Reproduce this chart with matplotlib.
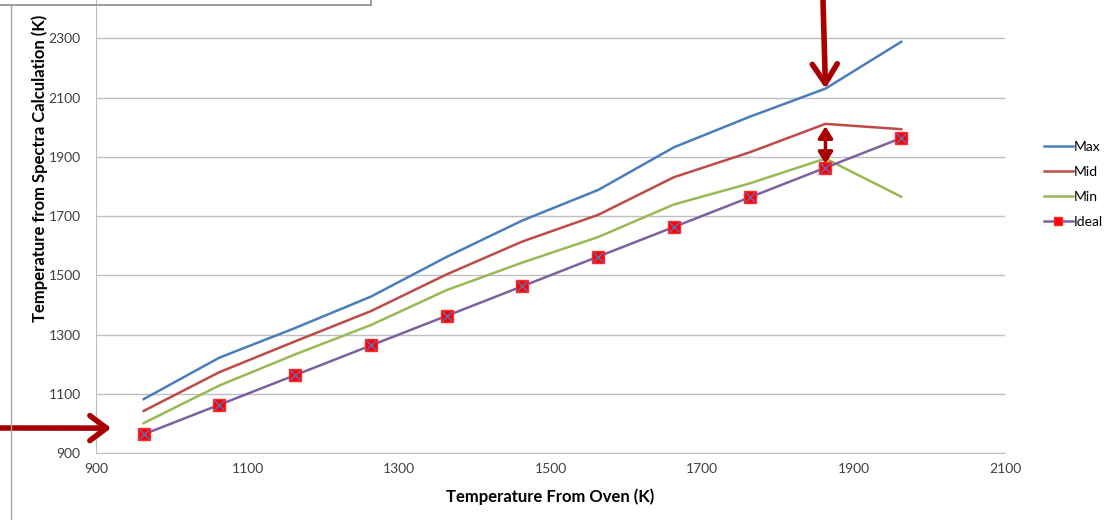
import numpy as np
import matplotlib
matplotlib.use('Agg')
import matplotlib.pyplot as plt
from matplotlib.lines import Line2D

plt.rcParams['font.family'] = ['Lato', 'DejaVu Sans']

# oven temperature (K)
oven = [963, 1063, 1163, 1263, 1363, 1463, 1563, 1663, 1763, 1863, 1963]
# temperature from spectra (K)
t_max = [1082, 1222, 1322, 1428, 1562, 1685, 1788, 1932, 2035, 2130, 2288]
t_mid = [1042, 1173, 1277, 1379, 1503, 1614, 1704, 1831, 1915, 2011, 1993]
t_min = [1001, 1128, 1233, 1332, 1450, 1543, 1629, 1739, 1810, 1894, 1765]
t_ideal = [963, 1063, 1163, 1263, 1363, 1463, 1563, 1663, 1763, 1863, 1963]

x_ticks = [900, 1100, 1300, 1500, 1700, 1900, 2100]
y_ticks = [900, 1100, 1300, 1500, 1700, 1900, 2100, 2300]

W, H = 1113, 520
fig = plt.figure(figsize=(W / 100, H / 100), dpi=100)
ax = fig.add_axes([96 / W, 67 / H, 909 / W, 474 / H])

ax.plot(oven, t_max, '-', color='#4A7EBB', lw=1.8, label='Max')
ax.plot(oven, t_mid, '-', color='#BE4B48', lw=1.8, label='Mid')
ax.plot(oven, t_min, '-', color='#98B954', lw=1.8, label='Min')
ax.plot(oven, t_ideal, '-', color='#7D60A0', lw=1.8, marker='s', markersize=8.5,
        markerfacecolor='#FF0000', markeredgecolor='#FF2A2A', label='Ideal', zorder=4)
ax.plot(oven, t_ideal, 'x', color='#5A6FC0', markersize=7, mew=1.0, zorder=5)

ax.set_xlim(900, 2100)
ax.set_ylim(900, 2500)
ax.set_xticks(x_ticks)
ax.set_yticks(y_ticks)
ax.tick_params(length=0, labelsize=10, colors='#404040')
ax.tick_params(axis='y', pad=11)
ax.tick_params(axis='x', pad=7)
ax.grid(True, axis='y', color='#BFBFBF', lw=1)
ax.set_axisbelow(True)
for s in ['top', 'right']:
    ax.spines[s].set_visible(False)
for s in ['left', 'bottom']:
    ax.spines[s].set_color('#BFBFBF')

ax.set_xlabel('Temperature From Oven (K)', fontsize=12, fontweight='bold', labelpad=10)
fig.text(40 / W, (H - 322) / H, 'Temperature from Spectra Calculation (K)',
         rotation=90, ha='center', va='bottom', fontsize=12, fontweight='bold')

fig.legend(loc='upper left', bbox_to_anchor=(1038 / W, (H - 135) / H), frameon=False,
           fontsize=10, labelspacing=0.95, handlelength=2.1, handletextpad=0.05,
           markerscale=0.7, borderaxespad=0)

# arrows
red = '#A80000'
ax.annotate('', xy=(920, 984), xytext=(0, H - 428), textcoords='figure pixels',
            arrowprops=dict(arrowstyle='->,head_length=0.6,head_width=0.45', color=red,
                            lw=4, mutation_scale=20, shrinkA=0, shrinkB=0),
            annotation_clip=False)
ax.annotate('', xy=(oven[9], t_max[9]), xytext=(823, H), textcoords='figure pixels',
            arrowprops=dict(arrowstyle='->,head_length=0.7,head_width=0.45', color=red,
                            lw=4, mutation_scale=20, shrinkA=0, shrinkB=0),
            annotation_clip=False)
ax.annotate('', xy=(oven[9], t_mid[9] - 8), xytext=(oven[9], t_min[9] - 18),
            arrowprops=dict(arrowstyle='<|-|>,head_length=0.35,head_width=0.22', color=red,
                            lw=2.5, mutation_scale=20, shrinkA=0, shrinkB=0))

# frame lines of the surrounding layout
fig.add_artist(Line2D([11 / W, 11 / W], [0, (H - 4.5) / H], color='#A6A6A6', lw=1))
fig.add_artist(Line2D([0, 371 / W], [(H - 4.5) / H, (H - 4.5) / H], color='#8C8C8C', lw=1.2))
fig.add_artist(Line2D([371 / W, 371 / W], [(H - 4.5) / H, 1], color='#8C8C8C', lw=1.2))

fig.savefig('out.png', dpi=100)
